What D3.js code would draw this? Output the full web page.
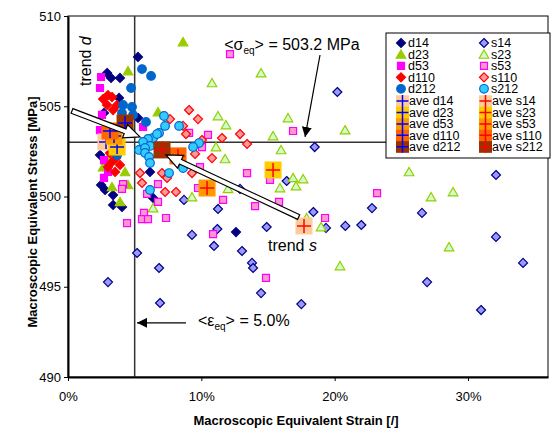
<!DOCTYPE html>
<html>
<head>
<meta charset="utf-8">
<script src="https://cdn.jsdelivr.net/npm/d3@7"></script>
<style>
  body { margin: 0; background: #fff; }
  text { font-family: Arial, "Liberation Sans", sans-serif; }
</style>
</head>
<body>
<div id="chart"></div>
<script>
// values: [strain (fraction), stress (MPa)]
var d14 = [[0.0525,507.73],[0.0293,506.84],[0.0323,506.57],[0.039,506.57],[0.0383,505.46],[0.0525,504.35],
  [0.027,504.63],[0.024,502.30],[0.0278,500.36],[0.0338,500.08],[0.0338,499.53],[0.0405,499.42],
  [0.0615,501.36],[0.0638,499.92],[0.126,498.03],[0.030,501.75],[0.0248,500.64]];
var d23 = [[0.0863,508.56],[0.045,506.95],[0.0675,504.68],[0.0428,501.36],[0.0263,501.63],[0.033,500.53],
  [0.039,499.70],[0.045,500.64],[0.030,502.13]];
var d53 = [[0.0248,506.62],[0.024,506.01],[0.0255,504.52],[0.0563,503.85],[0.024,503.68],[0.0255,502.85],
  [0.027,502.02],[0.030,501.36],[0.027,501.03]];
var d110 = [[0.0263,505.40],[0.033,505.51],[0.0293,505.07],[0.0338,504.79],[0.0368,505.07],[0.030,505.62],
  [0.0315,502.41],[0.036,502.13],[0.033,501.91],[0.039,501.75],[0.030,501.63],[0.0353,501.36],[0.0375,502.58]];
var d212 = [[0.0555,507.06],[0.0623,506.68],[0.0473,506.01],[0.0413,505.07],[0.048,504.96],[0.0488,504.52],
  [0.0585,504.13],[0.0405,504.63],[0.0368,502.30],[0.0338,502.69],[0.039,502.85]];

var s14 = [[0.202,505.79],[0.185,502.74],[0.164,500.86],[0.129,500.42],[0.1125,499.31],[0.184,499.14],
  [0.149,498.31],[0.112,498.20],[0.1935,498.26],[0.208,498.37],[0.220,498.42],[0.228,499.36],[0.2655,499.09],
  [0.321,501.19],[0.321,497.76],[0.3413,496.32],[0.2693,495.26],[0.3098,493.71],[0.175,494.04],[0.1448,494.65],
  [0.138,496.32],[0.1388,496.04],[0.1305,496.98],[0.1095,497.26],[0.093,497.87],[0.087,499.81],
  [0.0518,496.87],[0.0683,496.04],[0.030,495.26],[0.069,494.10]];
var s23 = [[0.108,506.29],[0.1448,506.84],[0.1125,504.46],[0.1185,503.96],[0.1538,503.35],[0.165,504.35],
  [0.1598,502.58],[0.1178,502.08],[0.111,502.74],[0.1688,501.03],[0.1763,500.97],[0.171,500.58],[0.159,500.47],
  [0.12,500.42],[0.093,499.97],[0.0638,499.36],[0.1898,498.31],[0.179,498.81],[0.2078,503.68],[0.2558,501.36],
  [0.2723,499.97],[0.2888,500.25],[0.2858,497.20],[0.204,496.15]];
var s53 = [[0.1215,507.89],[0.1688,503.63],[0.105,503.41],[0.1005,502.74],[0.0908,503.52],[0.099,501.63],
  [0.1343,501.30],[0.1515,500.92],[0.1163,499.81],[0.1403,499.47],[0.1583,499.70],[0.1928,498.81],[0.2318,500.19],
  [0.0975,500.47],[0.1088,497.92],[0.1485,495.49],[0.0413,500.69],[0.0675,500.69],[0.0593,500.14],[0.0675,499.70],
  [0.057,499.09],[0.0555,498.75],[0.060,498.75],[0.0735,498.81],[0.0443,498.53],[0.0405,500.42]];
var s110 = [[0.0908,504.79],[0.0975,504.29],[0.0885,503.46],[0.0765,504.29],[0.0863,503.91],[0.1155,503.24],
  [0.129,503.46],[0.1343,502.91],[0.1005,503.13],[0.108,502.13],[0.0953,502.36],[0.054,501.30],[0.0555,500.75],
  [0.0705,501.30],[0.0743,501.03],[0.0728,500.25],[0.081,500.25],[0.093,501.30]];
var s212 = [[0.072,504.46],[0.0728,503.91],[0.0833,503.91],[0.0683,503.52],[0.0638,503.24],[0.060,503.19],
  [0.0563,503.02],[0.0983,502.96],[0.0938,502.74],[0.0533,502.58],[0.0615,502.80],[0.0578,502.69],[0.0578,502.41],
  [0.0608,502.19],[0.0615,501.86],[0.0615,500.36],[0.0758,501.30],[0.0863,501.58],[0.0668,503.46]];

// averages
var aveNames = ["14", "23", "53", "110", "212"];
var aveD = [[0.0285,503.02],[0.0368,502.74],[0.0345,503.35],[0.0315,503.63],[0.0428,504.07]];
var aveS = [[0.177,498.37],[0.1538,501.47],[0.1043,500.47],[0.0825,502.25],[0.0705,502.58]];

var xTicks = [0, 0.1, 0.2, 0.3];
var yTicks = [490, 495, 500, 505, 510];
var meanStrain = 0.05, meanStress = 503.0;

var width = 557, height = 430;

var svg = d3.select("#chart").append("svg")
    .attr("width", width)
    .attr("height", height);

var x = d3.scaleLinear().domain([0, 0.36]).range([68, 548]);
var y = d3.scaleLinear().domain([490, 510]).range([377, 16]);

// plot frame
svg.append("rect")
    .attr("x", x(0)).attr("y", y(510))
    .attr("width", x(0.36) - x(0)).attr("height", y(490) - y(510))
    .attr("fill", "#fff").attr("stroke", "#000").attr("stroke-width", 1);

// mean lines
svg.append("line")
    .attr("x1", x(meanStrain)).attr("x2", x(meanStrain))
    .attr("y1", y(510)).attr("y2", y(490))
    .attr("stroke", "#333").attr("stroke-width", 1.5);
svg.append("line")
    .attr("x1", x(0)).attr("x2", x(0.36))
    .attr("y1", y(meanStress)).attr("y2", y(meanStress))
    .attr("stroke", "#333").attr("stroke-width", 1.5);

// axes
var yAxis = svg.append("g")
    .attr("transform", "translate(" + x(0) + ",0)")
    .call(d3.axisLeft(y).tickValues(yTicks).tickSize(4).tickSizeOuter(0).tickPadding(3));
var xAxis = svg.append("g")
    .attr("transform", "translate(0," + y(490) + ")")
    .call(d3.axisBottom(x).tickValues(xTicks).tickFormat(d3.format(".0%")).tickSize(4).tickSizeOuter(0).tickPadding(11));
[xAxis, yAxis].forEach(function(a) {
  a.select(".domain").attr("stroke", "#000").attr("stroke-width", 2);
  a.selectAll("text").style("font-size", "13px").attr("fill", "#000");
  a.selectAll(".tick line").attr("stroke", "#000");
});

svg.append("text")
    .attr("x", 296).attr("y", 425)
    .style("text-anchor", "middle")
    .style("font-size", "13px").style("font-weight", "bold")
    .text("Macroscopic Equivalent Strain [/]");
svg.append("text")
    .attr("transform", "translate(37,212) rotate(-90)")
    .style("text-anchor", "middle")
    .style("font-size", "13px").style("font-weight", "bold")
    .text("Macroscopic Equivalent Stress [MPa]");

// marker shapes
function shapePath(shape) {
  if (shape == "diamond") return "M0,-4.5L4.5,0L0,4.5L-4.5,0Z";
  if (shape == "square") return "M-3.5,-3.5h7v7h-7Z";
  if (shape == "triangle") return "M0,-4.5L4.8,3.8L-4.8,3.8Z";
  return null;
}

var series = [
  {name: "d14", data: d14, shape: "diamond", fill: "#000080", stroke: "#000080"},
  {name: "d23", data: d23, shape: "triangle", fill: "#99CC00", stroke: "#99CC00"},
  {name: "d53", data: d53, shape: "square", fill: "#FF00FF", stroke: "#FF00FF"},
  {name: "d110", data: d110, shape: "diamond", fill: "#FF0000", stroke: "#FF0000"},
  {name: "d212", data: d212, shape: "circle", fill: "#0066CC", stroke: "#0066CC"},
  {name: "s14", data: s14, shape: "diamond", fill: "#9999FF", stroke: "#000080"},
  {name: "s23", data: s23, shape: "triangle", fill: "#CCFFCC", stroke: "#99CC00"},
  {name: "s53", data: s53, shape: "square", fill: "#FF99CC", stroke: "#FF00FF"},
  {name: "s110", data: s110, shape: "diamond", fill: "#FF9999", stroke: "#FF0000"},
  {name: "s212", data: s212, shape: "circle", fill: "#33CCFF", stroke: "#0066CC"}
];

function drawMarker(g, s) {
  if (s.shape == "circle") {
    g.append("circle").attr("r", 4.3)
      .attr("fill", s.fill).attr("stroke", s.stroke).attr("stroke-width", 1.2);
  } else {
    g.append("path").attr("d", shapePath(s.shape))
      .attr("fill", s.fill).attr("stroke", s.stroke).attr("stroke-width", 1.2);
  }
}

series.forEach(function(s) {
  svg.append("g").selectAll("g")
    .data(s.data)
    .enter().append("g")
      .attr("transform", function(d) { return "translate(" + x(d[0]) + "," + y(d[1]) + ")"; })
      .each(function() { drawMarker(d3.select(this), s); });
});

// average markers
var aveColors = ["#FFCC99", "#FFCC00", "#FF9900", "#FF6600", "#993300"];
function drawAve(g, fill, plus, sz, arm) {
  g.append("rect").attr("x", -sz / 2).attr("y", -sz / 2).attr("width", sz).attr("height", sz)
    .attr("fill", fill);
  g.append("path").attr("d", "M" + (-arm) + ",0H" + arm + "M0," + (-arm) + "V" + arm)
    .attr("stroke", plus).attr("stroke-width", 1.5).attr("fill", "none");
}
[{data: aveD, plus: "#0000FF"}, {data: aveS, plus: "#FF0000"}].forEach(function(a) {
  svg.append("g").selectAll("g")
    .data(a.data)
    .enter().append("g")
      .attr("transform", function(d) { return "translate(" + x(d[0]) + "," + y(d[1]) + ")"; })
      .each(function(d, i) { drawAve(d3.select(this), aveColors[i], a.plus, 17, 7); });
});

// hollow trend arrows
function hollowArrow(p0, p1) {
  var x0 = x(p0[0]), y0 = y(p0[1]), x1 = x(p1[0]), y1 = y(p1[1]);
  var dx = x1 - x0, dy = y1 - y0, L = Math.sqrt(dx * dx + dy * dy);
  var ux = dx / L, uy = dy / L, nx = -uy, ny = ux;
  var w = 2.5, hw = 7, hl = 16;
  var bx = x1 - ux * hl, by = y1 - uy * hl;
  var pts = [
    [x0 + nx * w, y0 + ny * w], [bx + nx * w, by + ny * w], [bx + nx * hw, by + ny * hw], [x1, y1],
    [bx - nx * hw, by - ny * hw], [bx - nx * w, by - ny * w], [x0 - nx * w, y0 - ny * w]
  ];
  svg.append("path").attr("d", "M" + pts.join("L") + "Z")
    .attr("fill", "#fff").attr("stroke", "#000").attr("stroke-width", 1.2);
}
hollowArrow([0.003, 504.74], [0.054, 503.30]);
hollowArrow([0.173, 498.86], [0.0735, 502.30]);

// thin arrows for mean labels
svg.append("defs").append("marker")
    .attr("id", "head").attr("viewBox", "0 0 10 10")
    .attr("refX", 10).attr("refY", 5)
    .attr("markerWidth", 10).attr("markerHeight", 10)
    .attr("markerUnits", "userSpaceOnUse")
    .attr("orient", "auto")
  .append("path").attr("d", "M0,0L10,5L0,10Z").attr("fill", "#000");
function thinArrow(p0, p1) {
  svg.append("line")
    .attr("x1", x(p0[0])).attr("y1", y(p0[1]))
    .attr("x2", x(p1[0])).attr("y2", y(p1[1]))
    .attr("stroke", "#000").attr("stroke-width", 1.2)
    .attr("marker-end", "url(#head)");
}
thinArrow([0.189, 507.84], [0.1778, 503.30]);
thinArrow([0.0885, 493.0], [0.0518, 493.0]);

// annotation labels
var sig = svg.append("text").attr("x", x(0.1172)).attr("y", y(508.1)).style("font-size", "16px");
sig.append("tspan").text("<σ");
sig.append("tspan").attr("dy", 4).style("font-size", "10px").text("eq");
sig.append("tspan").attr("dy", -4).text("> = 503.2 MPa");

var eps = svg.append("text").attr("x", x(0.0975)).attr("y", y(492.8)).style("font-size", "16px");
eps.append("tspan").text("<ε");
eps.append("tspan").attr("dy", 4).style("font-size", "10px").text("eq");
eps.append("tspan").attr("dy", -4).text("> = 5.0%");

var ts = svg.append("text").attr("x", x(0.15)).attr("y", y(497.0)).style("font-size", "16px");
ts.append("tspan").text("trend ");
ts.append("tspan").style("font-style", "italic").text("s");

var td = svg.append("text")
    .attr("transform", "translate(" + x(0.0173) + "," + y(507.5) + ") rotate(-90)")
    .style("text-anchor", "middle").style("font-size", "16px");
td.append("tspan").text("trend ");
td.append("tspan").style("font-style", "italic").text("d");

// legend
var leg = svg.append("g").attr("transform", "translate(386,33)");
leg.append("rect").attr("width", 164).attr("height", 125)
    .attr("fill", "#fff").attr("stroke", "#000").attr("stroke-width", 1);
var rowH = 11.45;
series.forEach(function(s, i) {
  var col = i < 5 ? 0 : 1, row = i % 5;
  var g = leg.append("g").attr("transform", "translate(" + (15 + col * 83) + "," + (10 + row * rowH) + ")");
  drawMarker(g, s);
  g.append("text").attr("x", 7).attr("y", 4.3).style("font-size", "12.5px").text(s.name);
});
aveNames.forEach(function(n, i) {
  [["d", "#0000FF"], ["s", "#FF0000"]].forEach(function(t, col) {
    var g = leg.append("g").attr("transform", "translate(" + (16.5 + col * 83) + "," + (68 + i * rowH) + ")");
    g.append("rect").attr("x", -6.5).attr("y", -rowH / 2).attr("width", 13).attr("height", rowH + 0.3)
      .attr("fill", aveColors[i]);
    g.append("path").attr("d", "M-6,0H6M0,-6V6").attr("stroke", t[1]).attr("stroke-width", 1.5);
    g.append("text").attr("x", 6.5).attr("y", 4.3).style("font-size", "12.5px").text("ave " + t[0] + n);
  });
});
</script>
</body>
</html>
